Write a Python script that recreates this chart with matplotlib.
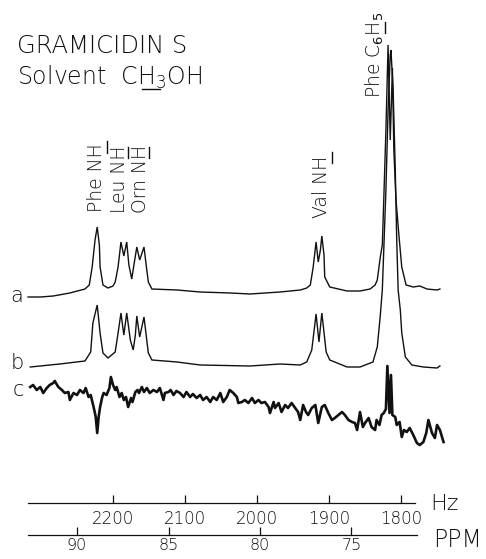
import matplotlib
matplotlib.use("Agg")
import matplotlib.pyplot as plt

plt.rcParams['font.family'] = ['DejaVu Sans']

# ---------------- data ----------------
# trace a: frequency (Hz) and intensity (arbitrary units)
a_hz = [2318, 2301, 2283, 2260, 2239, 2233, 2229, 2225, 2222, 2219, 2218, 2214, 2207,
        2200, 2197, 2193, 2189, 2185, 2181, 2178, 2174, 2171, 2167, 2163, 2157, 2154,
        2151, 2146, 2111, 2079, 2037, 2010, 1968, 1940, 1931, 1926, 1922, 1918, 1915,
        1912, 1910, 1907, 1906, 1899, 1875, 1857, 1843, 1836, 1833, 1829, 1826, 1824,
        1821, 1818, 1815, 1812, 1810, 1807, 1803, 1799, 1793, 1783, 1774, 1764, 1750, 1746]
a_int = [-5, -5, -4, -1, 3, 7, 25, 52, 65, 47, 25, 7, 4,
         6, 10, 25, 50, 36, 50, 27, 13, 27, 45, 32, 45, 27,
         10, 3, 2, 0, -1, -2, 0, 2, 4, 7, 25, 50, 30,
         42, 56, 37, 15, 5, 1, 1, 3, 7, 12, 34, 47, 92,
         162, 247, 152, 224, 142, 92, 57, 25, 7, 5, 6, 3, 2, 3]

# trace b
b_hz = [2315, 2274, 2239, 2231, 2228, 2222, 2218, 2214, 2207, 2197, 2193, 2189, 2185,
        2181, 2176, 2172, 2169, 2167, 2163, 2157, 2154, 2151, 2146, 2111, 2079, 2010,
        1968, 1940, 1931, 1924, 1918, 1914, 1910, 1904, 1899, 1875, 1857, 1839, 1833,
        1829, 1826, 1824, 1821, 1818, 1815, 1814, 1811, 1808, 1806, 1804, 1801, 1799,
        1794, 1785, 1769, 1750, 1746]
b_int = [-1, 2, 5, 14, 43, 61, 33, 13, 8, 14, 33, 53, 31,
         53, 26, 16, 31, 50, 29, 49, 31, 13, 6, 4, 1, 0,
         2, 1, 4, 16, 52, 24, 53, 14, 6, -1, -1, 4, 19,
         49, 76, 116, 176, 256, 311, 316, 276, 196, 126, 76, 56, 33,
         9, 1, -1, -2, 0]

# trace c (difference spectrum, noisy)
c_hz = [2315, 2311, 2306, 2301, 2297, 2292, 2288, 2283, 2281, 2276, 2271, 2267, 2262,
        2260, 2255, 2250, 2246, 2241, 2238, 2234, 2231, 2227, 2224, 2222, 2220, 2218,
        2215, 2213, 2209, 2205, 2203, 2200, 2197, 2195, 2191, 2188, 2185, 2182, 2179,
        2175, 2173, 2169, 2166, 2164, 2160, 2157, 2153, 2149, 2144, 2139, 2135, 2130,
        2128, 2123, 2120, 2116, 2112, 2107, 2102, 2098, 2093, 2089, 2084, 2079, 2075,
        2070, 2065, 2061, 2056, 2051, 2047, 2042, 2038, 2033, 2028, 2026, 2021, 2017,
        2012, 2007, 2003, 1998, 1994, 1989, 1984, 1982, 1977, 1975, 1970, 1966, 1961,
        1957, 1952, 1947, 1943, 1940, 1936, 1932, 1929, 1924, 1919, 1915, 1910, 1906,
        1901, 1896, 1892, 1887, 1882, 1878, 1873, 1868, 1864, 1861, 1857, 1853, 1850,
        1845, 1841, 1836, 1834, 1830, 1827, 1824, 1821, 1819, 1816, 1814, 1812, 1808,
        1806, 1802, 1799, 1796, 1792, 1788, 1783, 1778, 1774, 1769, 1765, 1762, 1757,
        1753, 1750, 1746, 1741]
c_int = [0, 2, -3, 0, -6, -1, 2, 4, 6, 0, -3, -6, -5,
         -13, -6, -8, -3, -6, -1, -10, -8, -20, -30, -46, -30, -20,
         -10, -6, -8, -1, 10, 2, -3, 0, -10, -6, -13, -10, -20,
         -11, -15, -5, -3, -6, 0, -5, -1, -6, -3, -5, -1, -13,
         -6, -5, -3, -8, -4, -6, -10, -5, -10, -7, -11, -8, -13,
         -10, -15, -10, -13, -6, -15, -10, -3, -6, -10, -16, -15, -13,
         -16, -11, -16, -13, -16, -15, -20, -26, -15, -21, -16, -25, -18,
         -21, -16, -21, -25, -33, -18, -25, -28, -21, -18, -36, -20, -18,
         -26, -33, -31, -28, -25, -28, -33, -35, -36, -43, -25, -40, -36,
         -31, -40, -43, -33, -38, -28, -26, -22, 21, -26, 12, -28, -30,
         -38, -35, -50, -43, -45, -41, -48, -56, -58, -55, -46, -33, -46,
         -51, -38, -43, -55]

trace_labels = ['a', 'b', 'c']

hz_ticks = [2200, 2100, 2000, 1900, 1800]
hz_ticklabels = ['2200', '2100', '2000', '1900', '1800']
ppm_ticks = [90, 85, 80, 75]
ppm_ticklabels = ['90', '85', '80', '75']

peak_labels = ['Phe NH', 'Leu NH', 'Orn NH', 'Val NH', r'Phe C$_6$H$_5$']

# ---------------- layout ----------------
W, H = 486, 559
fig = plt.figure(figsize=(W / 100, H / 100), dpi=100)
fig.patch.set_facecolor('white')

ax = fig.add_axes([0, 0, 1, 1])
ax.set_xlim(2357, 1682)
ax.set_ylim(0, H)
ax.axis('off')

off_a, off_b, off_c = H - 292, H - 366, H - 387
ink = '#111111'
ax.plot(a_hz, [v + off_a for v in a_int], color=ink, lw=1.0, solid_joinstyle='miter')
ax.plot(b_hz, [v + off_b for v in b_int], color=ink, lw=1.0, solid_joinstyle='miter')
ax.plot(c_hz, [v + off_c for v in c_int], color=ink, lw=1.9)

def px(x, y):
    return (x / W, 1 - y / H)

font_light = dict(family='DejaVu Sans', weight='light', color=ink)

# trace letters
for lab, (x, y) in zip(trace_labels, [(17, 296), (17, 363), (18, 390)]):
    fig.text(*px(x, y), lab, ha='center', va='center', fontsize=15, **font_light)

# title
fig.text(*px(17, 53), 'GRAMICIDIN S', ha='left', va='baseline', fontsize=17.5, **font_light)
fig.text(*px(17, 85), r'Solvent  C$\mathregular{H_3}$OH', ha='left', va='baseline',
         fontsize=17, **font_light)
fig.add_artist(plt.Line2D([142 / W, 160 / W], [1 - 89 / H, 1 - 89 / H], color=ink, lw=1.0))

# peak labels (rotated)
label_pos = [(96, 212), (119, 213), (140, 213), (321, 218), (375, 98)]
for lab, (x, y) in zip(peak_labels, label_pos):
    fig.text(*px(x, y), lab, rotation=90, ha='center', va='bottom', fontsize=13.5,
             **font_light)
# underline marks beside labelled H atoms
for (x, y0, y1) in [(107, 141, 153), (128, 147, 158), (149, 147, 158), (332, 152, 163),
                    (385, 22, 33)]:
    fig.add_artist(plt.Line2D([x / W, x / W], [1 - y0 / H, 1 - y1 / H], color=ink, lw=1.0))

# Hz axis
ax_hz = fig.add_axes([28 / W, 1 - 503 / H, 387 / W, 0.0001])
ax_hz.set_xlim(2318, 1780.5)
ax_hz.set_xticks(hz_ticks)
ax_hz.set_xticklabels(hz_ticklabels)
ax_hz.set_yticks([])
for s in ['top', 'left', 'right']:
    ax_hz.spines[s].set_visible(False)
ax_hz.spines['bottom'].set_linewidth(0.9)
ax_hz.spines['bottom'].set_color(ink)
ax_hz.patch.set_alpha(0)
ax_hz.tick_params(axis='x', direction='in', length=6, width=0.9, pad=5, labelsize=12,
                  colors=ink)
for t in ax_hz.get_xticklabels():
    t.set_fontweight('light')
fig.text(*px(430, 510), 'Hz', ha='left', va='baseline', fontsize=16, **font_light)

# PPM axis
ax_ppm = fig.add_axes([28 / W, 1 - 535 / H, 389 / W, 0.0001])
ax_ppm.set_xlim(92.68, 71.42)
ax_ppm.set_xticks(ppm_ticks)
ax_ppm.set_xticklabels(ppm_ticklabels)
ax_ppm.set_yticks([])
for s in ['top', 'left', 'right']:
    ax_ppm.spines[s].set_visible(False)
ax_ppm.spines['bottom'].set_linewidth(0.9)
ax_ppm.spines['bottom'].set_color(ink)
ax_ppm.patch.set_alpha(0)
ax_ppm.tick_params(axis='x', direction='in', length=6, width=0.9, pad=2, labelsize=11.5,
                   colors=ink)
for t in ax_ppm.get_xticklabels():
    t.set_fontweight('light')
fig.text(*px(433, 547), 'PPM', ha='left', va='baseline', fontsize=17, **font_light)

fig.savefig('out.png', dpi=100, facecolor='white')
